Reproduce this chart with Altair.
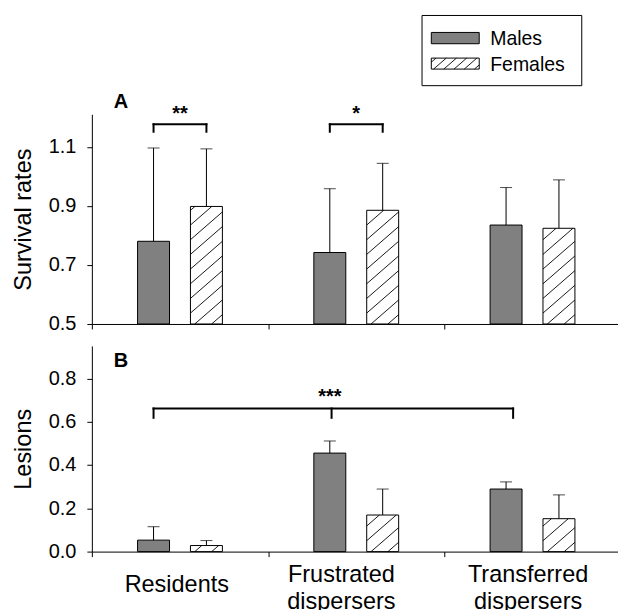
import math
import altair as alt
import pandas as pd

# ---------------- data ----------------
groups = ["Residents", "Frustrated dispersers", "Transferred dispersers"]
group_centre = [0.5, 1.5, 2.5]
label_pos = [0.479, 1.413, 2.472]
sexes = ["Males", "Females"]

survival_males = [0.780, 0.742, 0.835]
survival_males_err = [0.316, 0.216, 0.127]
survival_females = [0.898, 0.885, 0.824]
survival_females_err = [0.195, 0.159, 0.164]

lesions_males = [0.053, 0.455, 0.289]
lesions_males_err = [0.062, 0.056, 0.033]
lesions_females = [0.028, 0.169, 0.152]
lesions_females_err = [0.023, 0.120, 0.110]

# significance annotations
sig_a_groups = [0, 1]
sig_a_stars = ["**", "*"]
sig_a_level = [1.176, 1.151]      # bracket line, bracket end
sig_a_star_y = 1.19
sig_b_x = [0.35, 1.36, 2.39]
sig_b_level = [0.661, 0.618]
sig_b_star = "***"
sig_b_star_x = 1.35
sig_b_star_y = 0.687

# ---------------- layout / style ----------------
FONT = "Liberation Sans"
W = 527
XMAX = 2.985
HA, A_MIN, A_MAX = 210, 0.5, 1.21
HB, B_MIN, B_MAX = 206, 0.0, 0.95
OFFSETS = {"Males": -0.15, "Females": 0.15}
BAR_PX = 32
PXX = W / XMAX
PXY_A = HA / (A_MAX - A_MIN)
PXY_B = HB / (B_MAX - B_MIN)
MALE_FILL = "#808080"

xscale = alt.Scale(domain=[0, XMAX], nice=False, zero=False)


def hatch_segments(left, bottom, w_px, h_px, pxx, pxy, slope, step, phase):
    segs = []
    c = phase - step * math.ceil((slope * w_px + phase) / step)
    while c < h_px:
        u0 = max(0.0, -c / slope)
        u1 = min(w_px, (h_px - c) / slope)
        if u1 - u0 > 0.4:
            segs.append(dict(hx=left + u0 / pxx, hy=bottom + (slope * u0 + c) / pxy,
                             hx2=left + u1 / pxx, hy2=bottom + (slope * u1 + c) / pxy))
        c += step
    return segs


def bar_table(males, m_err, females, f_err, base):
    rows = []
    for i, g in enumerate(groups):
        for sex, vals, errs in (("Males", males, m_err), ("Females", females, f_err)):
            c = group_centre[i] + OFFSETS[sex]
            hw = BAR_PX / 2 / PXX
            rows.append(dict(group=g, sex=sex, centre=c, left=c - hw, right=c + hw,
                             value=vals[i], top=vals[i] + errs[i], base=base))
    return pd.DataFrame(rows)


def panel(df, base, ymax, pxy, height, ytitle, yvalues, xaxis, extra_layers):
    ys = alt.Scale(domain=[base, ymax], nice=False, zero=False)
    ya = alt.Axis(title=ytitle, values=yvalues, format=".1f", tickSize=5, grid=False,
                  labelPadding=11, titlePadding=13)
    xa = xaxis
    bars = alt.Chart(df).mark_bar(stroke="black", strokeWidth=1).encode(
        x=alt.X("left:Q", scale=xscale, axis=xa),
        x2="right:Q",
        y=alt.Y("value:Q", scale=ys, axis=ya),
        y2="base:Q",
        color=alt.Color("sex:N", scale=alt.Scale(domain=sexes, range=[MALE_FILL, "white"]),
                        legend=None),
    )
    fem = df[df.sex == "Females"]
    segs = []
    for _, r in fem.iterrows():
        segs += hatch_segments(r.left, base, BAR_PX, (r.value - base) * pxy, PXX, pxy,
                               0.87, 14.7, 10.9)
    hatch = alt.Chart(pd.DataFrame(segs)).mark_rule(color="black", strokeWidth=0.9).encode(
        x=alt.X("hx:Q", scale=xscale, axis=xa), x2="hx2:Q",
        y=alt.Y("hy:Q", scale=ys, axis=ya), y2="hy2:Q")
    err = alt.Chart(df).mark_rule(color="black", strokeWidth=1).encode(
        x=alt.X("centre:Q", scale=xscale, axis=xa),
        y=alt.Y("value:Q", scale=ys, axis=ya), y2="top:Q")
    cap = alt.Chart(df).mark_tick(color="black", orient="horizontal", size=12,
                                  thickness=1).encode(
        x=alt.X("centre:Q", scale=xscale, axis=xa),
        y=alt.Y("top:Q", scale=ys, axis=ya))
    layers = [bars, hatch, err, cap] + [l(ys, xa, ya) for l in extra_layers]
    return alt.layer(*layers).properties(width=W, height=height)


dfa = bar_table(survival_males, survival_males_err, survival_females, survival_females_err, A_MIN)
dfb = bar_table(lesions_males, lesions_males_err, lesions_females, lesions_females_err, B_MIN)

bracket_a = []
stars_a = []
for g, s in zip(sig_a_groups, sig_a_stars):
    xm = group_centre[g] + OFFSETS["Males"]
    xf = group_centre[g] + OFFSETS["Females"]
    bracket_a += [dict(bx=xm, bx2=xf, by=sig_a_level[0], by2=sig_a_level[0]),
                  dict(bx=xm, bx2=xm, by=sig_a_level[1], by2=sig_a_level[0]),
                  dict(bx=xf, bx2=xf, by=sig_a_level[1], by2=sig_a_level[0])]
    stars_a.append(dict(sx=group_centre[g], sy=sig_a_star_y, s=s))

bracket_b = [dict(bx=sig_b_x[0], bx2=sig_b_x[-1], by=sig_b_level[0], by2=sig_b_level[0])]
for xv in sig_b_x:
    bracket_b.append(dict(bx=xv, bx2=xv, by=sig_b_level[1], by2=sig_b_level[0]))
stars_b = [dict(sx=sig_b_star_x, sy=sig_b_star_y, s=sig_b_star)]


def bracket_layer(rows):
    def f(ys, xa, ya):
        return alt.Chart(pd.DataFrame(rows)).mark_rule(color="black", strokeWidth=2,
                                                       strokeCap="square").encode(
            x=alt.X("bx:Q", scale=xscale, axis=xa), x2="bx2:Q",
            y=alt.Y("by:Q", scale=ys, axis=ya), y2="by2:Q")
    return f


def star_layer(rows):
    def f(ys, xa, ya):
        return alt.Chart(pd.DataFrame(rows)).mark_text(
            font=FONT, fontSize=20, fontWeight="bold", baseline="alphabetic",
            align="center", color="black").encode(
            x=alt.X("sx:Q", scale=xscale, axis=xa),
            y=alt.Y("sy:Q", scale=ys, axis=ya), text="s:N")
    return f


def letter_layer(letter, xpx, ypx):
    def f(ys, xa, ya):
        return alt.Chart(pd.DataFrame({"t": [letter]})).mark_text(
            font=FONT, fontSize=20, fontWeight="bold", align="left",
            baseline="alphabetic", color="black").encode(
            x=alt.value(xpx), y=alt.value(ypx), text="t:N")
    return f


# legend (drawn above panel A, positions in pixels relative to panel A)
LEG_BOX = (330.7, 490.7, -99, -28.7)
LEG_SW_X = (340, 388)
LEG_SW_Y = {"Males": (-82, -70.7), "Females": (-56.3, -45.3)}
LEG_TEXT_X = 399
LEG_TEXT_Y = {"Males": -69.7, "Females": -43.5}


def legend_layers():
    out = []

    def box(ys, xa, ya):
        return alt.Chart(pd.DataFrame({"a": [0]})).mark_rect(
            fill="white", stroke="black", strokeWidth=1).encode(
            x=alt.value(LEG_BOX[0]), x2=alt.value(LEG_BOX[1]),
            y=alt.value(LEG_BOX[2]), y2=alt.value(LEG_BOX[3]))
    out.append(box)
    for sex, fill in zip(sexes, [MALE_FILL, "white"]):
        def sw(ys, xa, ya, sex=sex, fill=fill):
            return alt.Chart(pd.DataFrame({"a": [0]})).mark_rect(
                fill=fill, stroke="black", strokeWidth=1).encode(
                x=alt.value(LEG_SW_X[0]), x2=alt.value(LEG_SW_X[1]),
                y=alt.value(LEG_SW_Y[sex][0]), y2=alt.value(LEG_SW_Y[sex][1]))

        def tx(ys, xa, ya, sex=sex):
            return alt.Chart(pd.DataFrame({"t": [sex]})).mark_text(
                font=FONT, fontSize=19.5, align="left", baseline="alphabetic",
                color="black").encode(
                x=alt.value(LEG_TEXT_X), y=alt.value(LEG_TEXT_Y[sex]), text="t:N")
        out += [sw, tx]

    def leg_hatch(ys, xa, ya):
        y_top, y_bot = LEG_SW_Y["Females"]
        bottom = A_MAX - y_bot / PXY_A
        segs = hatch_segments(LEG_SW_X[0] / PXX, bottom, LEG_SW_X[1] - LEG_SW_X[0],
                              y_bot - y_top, PXX, PXY_A, 0.87, 8.9, -2.0)
        return alt.Chart(pd.DataFrame(segs)).mark_rule(color="black", strokeWidth=0.9).encode(
            x=alt.X("hx:Q", scale=xscale, axis=xa), x2="hx2:Q",
            y=alt.Y("hy:Q", scale=ys, axis=ya), y2="hy2:Q")
    out.append(leg_hatch)
    return out


xaxis_a = alt.Axis(values=[0, 1, 2], labels=False, title=None, tickSize=5, grid=False)

expr = "''"
for p, g in reversed(list(zip(label_pos, groups))):
    arr = "[" + ",".join("'%s'" % s for s in g.split(" ")) + "]"
    expr = "datum.value == %s ? %s : (%s)" % (p, arr, expr)

xaxis_b = alt.Axis(values=[0, 1, 2] + label_pos, labelExpr=expr, title=None, tickSize=5,
                   grid=False,
                   tickOpacity={"condition": {"test": "datum.value % 1 == 0", "value": 1},
                                "value": 0},
                   labelPadding={"condition": {"test": "datum.value == %s" % label_pos[0],
                                               "value": 28.3},
                                 "value": 18.3},
                   labelFontSize=23.5, labelBaseline="middle", labelAlign="center",
                   labelLineHeight=27, labelOverlap=False,
                   labelFlush=False, labelBound=False)

panel_a = panel(dfa, A_MIN, A_MAX, PXY_A, HA, "Survival rates", [0.5, 0.7, 0.9, 1.1], xaxis_a,
                [bracket_layer(bracket_a), star_layer(stars_a), letter_layer("A", 22, -6.2)]
                + legend_layers())
panel_b = panel(dfb, B_MIN, B_MAX, PXY_B, HB, "Lesions", [0.0, 0.2, 0.4, 0.6, 0.8], xaxis_b,
                [bracket_layer(bracket_b), star_layer(stars_b), letter_layer("B", 22, 20.8)])

chart = alt.vconcat(panel_a, panel_b, spacing=12).resolve_scale(y="independent").properties(
    padding={"left": 11, "top": 14, "right": 0, "bottom": 0}, background="white"
).configure_view(strokeWidth=0, strokeOpacity=0).configure_axis(
    grid=False, domainColor="black", domainWidth=1, tickColor="black", tickWidth=1,
    labelFont=FONT, labelFontSize=20, labelColor="black",
    titleFont=FONT, titleFontSize=23.5, titleFontWeight="normal", titleColor="black",
)

chart.save("out.html", embed_options={"renderer": "svg", "actions": False})
